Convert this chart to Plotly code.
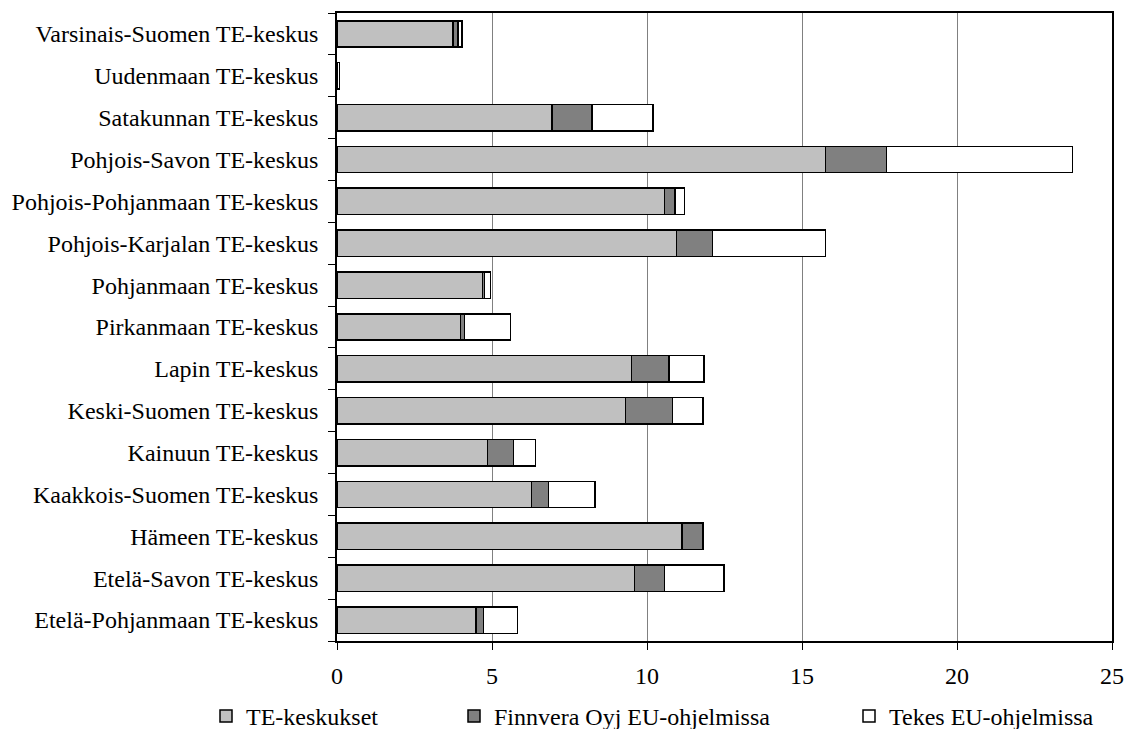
import plotly.graph_objects as go

categories = [
    "Etelä-Pohjanmaan TE-keskus",
    "Etelä-Savon TE-keskus",
    "Hämeen TE-keskus",
    "Kaakkois-Suomen TE-keskus",
    "Kainuun TE-keskus",
    "Keski-Suomen TE-keskus",
    "Lapin TE-keskus",
    "Pirkanmaan TE-keskus",
    "Pohjanmaan TE-keskus",
    "Pohjois-Karjalan TE-keskus",
    "Pohjois-Pohjanmaan TE-keskus",
    "Pohjois-Savon TE-keskus",
    "Satakunnan TE-keskus",
    "Uudenmaan TE-keskus",
    "Varsinais-Suomen TE-keskus",
]
te_keskukset = [4.48, 9.59, 11.13, 6.28, 4.85, 9.31, 9.50, 3.99, 4.69, 10.95, 10.56, 15.76, 6.93, 0.0, 3.74]
finnvera = [0.24, 0.98, 0.68, 0.54, 0.84, 1.51, 1.21, 0.13, 0.07, 1.16, 0.34, 1.96, 1.29, 0.0, 0.16]
tekes = [1.10, 1.91, 0.0, 1.50, 0.72, 0.99, 1.13, 1.48, 0.19, 3.64, 0.31, 6.01, 1.97, 0.08, 0.13]

series_names = ["TE-keskukset", "Finnvera Oyj EU-ohjelmissa", "Tekes EU-ohjelmissa"]
series_values = [te_keskukset, finnvera, tekes]
series_colors = ["#C0C0C0", "#808080", "#FFFFFF"]
legend_ids = ["legend", "legend2", "legend3"]

W, H = 1124, 729
legend_x = [206, 454, 849]

FONT = "Liberation Serif"
FS = 24

fig = go.Figure()
for name, vals, col, lid in zip(series_names, series_values, series_colors, legend_ids):
    fig.add_trace(go.Bar(
        y=categories, x=vals, name=name, orientation="h",
        marker=dict(color=col, line=dict(color="#000000", width=1.5)),
        legend=lid,
    ))

legend_common = dict(
    orientation="h", xref="container", yref="container",
    yanchor="top", xanchor="left", y=(H - 694) / H,
    font=dict(family=FONT, size=FS, color="#000"),
    bgcolor="rgba(0,0,0,0)", borderwidth=0, itemwidth=30,
)

fig.update_layout(
    width=W, height=H,
    margin=dict(l=337, r=12, t=13, b=88),
    barmode="stack", bargap=0.37,
    plot_bgcolor="#FFFFFF", paper_bgcolor="#FFFFFF",
    font=dict(family=FONT, size=FS, color="#000"),
    showlegend=True,
    legend=dict(x=legend_x[0] / W, **legend_common),
    legend2=dict(x=legend_x[1] / W, **legend_common),
    legend3=dict(x=legend_x[2] / W, **legend_common),
)
fig.update_xaxes(
    range=[0, 25], tickvals=[0, 5, 10, 15, 20, 25],
    showgrid=True, gridcolor="#808080", gridwidth=1,
    zeroline=False, showline=True, linecolor="#000", linewidth=1.5, mirror=True,
    ticks="outside", ticklen=7, tickcolor="#000", tickwidth=1.2,
    ticklabelstandoff=5, automargin=False,
    tickfont=dict(family=FONT, size=FS, color="#000"),
)
fig.update_yaxes(
    type="category", categoryorder="array", categoryarray=categories,
    showgrid=False, showline=True, linecolor="#000", linewidth=1.5, mirror=True,
    ticks="outside", ticklen=7, tickcolor="#000", tickwidth=1.2, tickson="boundaries",
    ticklabelstandoff=12, automargin=False,
    tickfont=dict(family=FONT, size=FS, color="#000"),
)

fig.write_html(
    "out.html",
    config={"displayModeBar": False},
    post_script="document.body.style.margin='0';document.body.style.overflow='hidden';",
)
